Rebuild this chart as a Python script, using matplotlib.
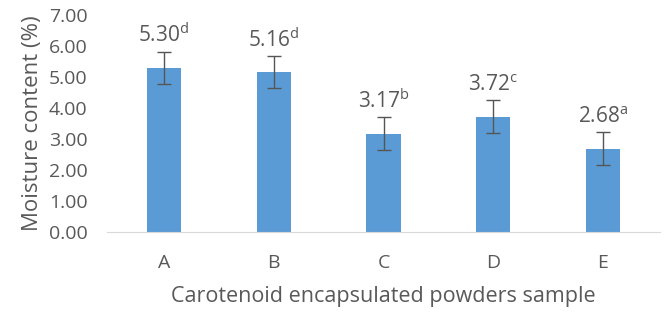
import numpy as np
import matplotlib
matplotlib.use("Agg")
from matplotlib import pyplot as plt

samples = ['A', 'B', 'C', 'D', 'E']
moisture = [5.30, 5.16, 3.17, 3.72, 2.68]
err = [0.52, 0.52, 0.53, 0.54, 0.53]
letters = ['d', 'd', 'b', 'c', 'a']
yticks = [0, 1, 2, 3, 4, 5, 6, 7]

plt.rcParams['font.family'] = ['Open Sans', 'DejaVu Sans']
plt.rcParams['mathtext.fontset'] = 'custom'
plt.rcParams['mathtext.rm'] = 'Open Sans'
plt.rcParams['mathtext.default'] = 'rm'
grey = '#595959'

fig = plt.figure(figsize=(6.67, 3.13), dpi=100)
ax = fig.add_axes([107/667, 1-232/313, 553/667, 217/313])

x = np.arange(len(samples))
ax.bar(x, moisture, width=0.31, color='#5B9BD5', zorder=2)
ax.errorbar(x, moisture, yerr=err, fmt='none', ecolor='#555555',
            elinewidth=1, capsize=5, capthick=1, zorder=3)

for xi, v, l in zip(x, moisture, letters):
    ax.text(xi, v + 0.66, '%.2f$^{%s}$' % (v, l), ha='center', va='bottom',
            fontsize=15, color=grey)

ax.set_xlim(-0.52, 4.52)
ax.set_ylim(0, 7)
ax.set_yticks(yticks)
ax.set_yticklabels(['%.2f' % t for t in yticks])
ax.set_xticks(x)
ax.set_xticklabels(samples)
ax.tick_params(axis='both', length=0, labelsize=14, colors=grey)
ax.tick_params(axis='x', pad=16)
ax.tick_params(axis='y', pad=14)
for s in ['top', 'right', 'left']:
    ax.spines[s].set_visible(False)
ax.spines['bottom'].set_color('#d9d9d9')
ax.set_ylabel('Moisture content (%)', fontsize=16, color=grey, labelpad=4)
ax.set_xlabel('Carotenoid encapsulated powders sample', fontsize=15.5, color=grey, labelpad=10)

fig.savefig('out.png', dpi=100)
